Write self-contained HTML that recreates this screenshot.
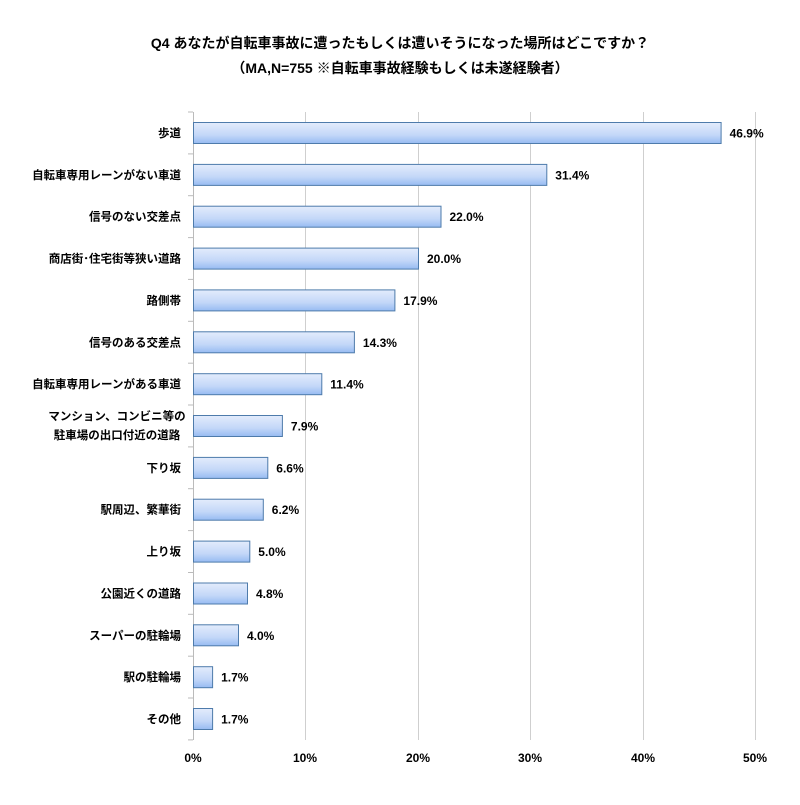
<!DOCTYPE html>
<html><head><meta charset="utf-8"><style>
body{margin:0;background:#fff}
text{font-family:"Liberation Sans","Noto Sans CJK JP",sans-serif;fill:#000}
</style></head><body>
<svg width="800" height="800" xmlns="http://www.w3.org/2000/svg">
<defs><linearGradient id="g" x1="0" y1="0" x2="0" y2="1">
<stop offset="0" stop-color="#e3ecfc"/><stop offset="0.6" stop-color="#c3d7f8"/><stop offset="1" stop-color="#97bbf2"/></linearGradient></defs>
<text x="400" y="48" font-size="14" font-weight="bold" text-anchor="middle">Q4 あなたが自転車事故に遭ったもしくは遭いそうになった場所はどこですか？</text>
<text x="400" y="73" font-size="14" font-weight="bold" text-anchor="middle">（MA,N=755 ※自転車事故経験もしくは未遂経験者）</text>
<g stroke="#cfcfcf" stroke-width="1">
<line x1="305.5" y1="112" x2="305.5" y2="740"/>
<line x1="418.5" y1="112" x2="418.5" y2="740"/>
<line x1="530.5" y1="112" x2="530.5" y2="740"/>
<line x1="643.5" y1="112" x2="643.5" y2="740"/>
<line x1="755.5" y1="112" x2="755.5" y2="740"/>
<line x1="193.5" y1="112" x2="193.5" y2="740" stroke="#bbb"/>
</g>
<g id="ticks" stroke="#bbb" stroke-width="1"></g>
<g id="bars" stroke="#4e7bab" stroke-width="1" fill="url(#g)"></g>
<g id="labels" font-size="11.5" font-weight="bold"></g>
<g font-size="12" font-weight="bold" text-anchor="middle">
<text x="193" y="762">0%</text><text x="305" y="762">10%</text><text x="418" y="762">20%</text>
<text x="530" y="762">30%</text><text x="643" y="762">40%</text><text x="755" y="762">50%</text>
</g>
</svg>
<script>
var d=[["歩道",46.9],["自転車専用レーンがない車道",31.4],["信号のない交差点",22.0],["商店街･住宅街等狭い道路",20.0],["路側帯",17.9],["信号のある交差点",14.3],["自転車専用レーンがある車道",11.4],["マンション、コンビニ等の|駐車場の出口付近の道路",7.9],["下り坂",6.6],["駅周辺、繁華街",6.2],["上り坂",5.0],["公園近くの道路",4.8],["スーパーの駐輪場",4.0],["駅の駐輪場",1.7],["その他",1.7]];
var ns="http://www.w3.org/2000/svg",b=document.getElementById("bars"),l=document.getElementById("labels"),tk=document.getElementById("ticks");
function t(x,y,s,a,sz){var e=document.createElementNS(ns,"text");e.setAttribute("x",x);e.setAttribute("y",y);if(a)e.setAttribute("text-anchor",a);if(sz)e.setAttribute("font-size",sz);e.textContent=s;l.appendChild(e);}
for(var k=0;k<=15;k++){var y=(112+k*41.86).toFixed(1);var e=document.createElementNS(ns,"line");e.setAttribute("x1",188);e.setAttribute("x2",193);e.setAttribute("y1",y);e.setAttribute("y2",y);tk.appendChild(e);}
d.forEach(function(r,i){var c=133+i*41.86,w=r[1]*11.25;
var e=document.createElementNS(ns,"rect");e.setAttribute("x",193.5);e.setAttribute("y",(c-10.5).toFixed(1));e.setAttribute("width",w.toFixed(1));e.setAttribute("height",21);b.appendChild(e);
t((193+w+9).toFixed(1),c+4.5,r[1].toFixed(1)+"%",null,12);
var p=r[0].split("|");if(p.length==1)t(181,c+4,p[0],"end");else{t(117,c-6,p[0],"middle");t(117,c+13,p[1],"middle");}
});
</script>
</body></html>
